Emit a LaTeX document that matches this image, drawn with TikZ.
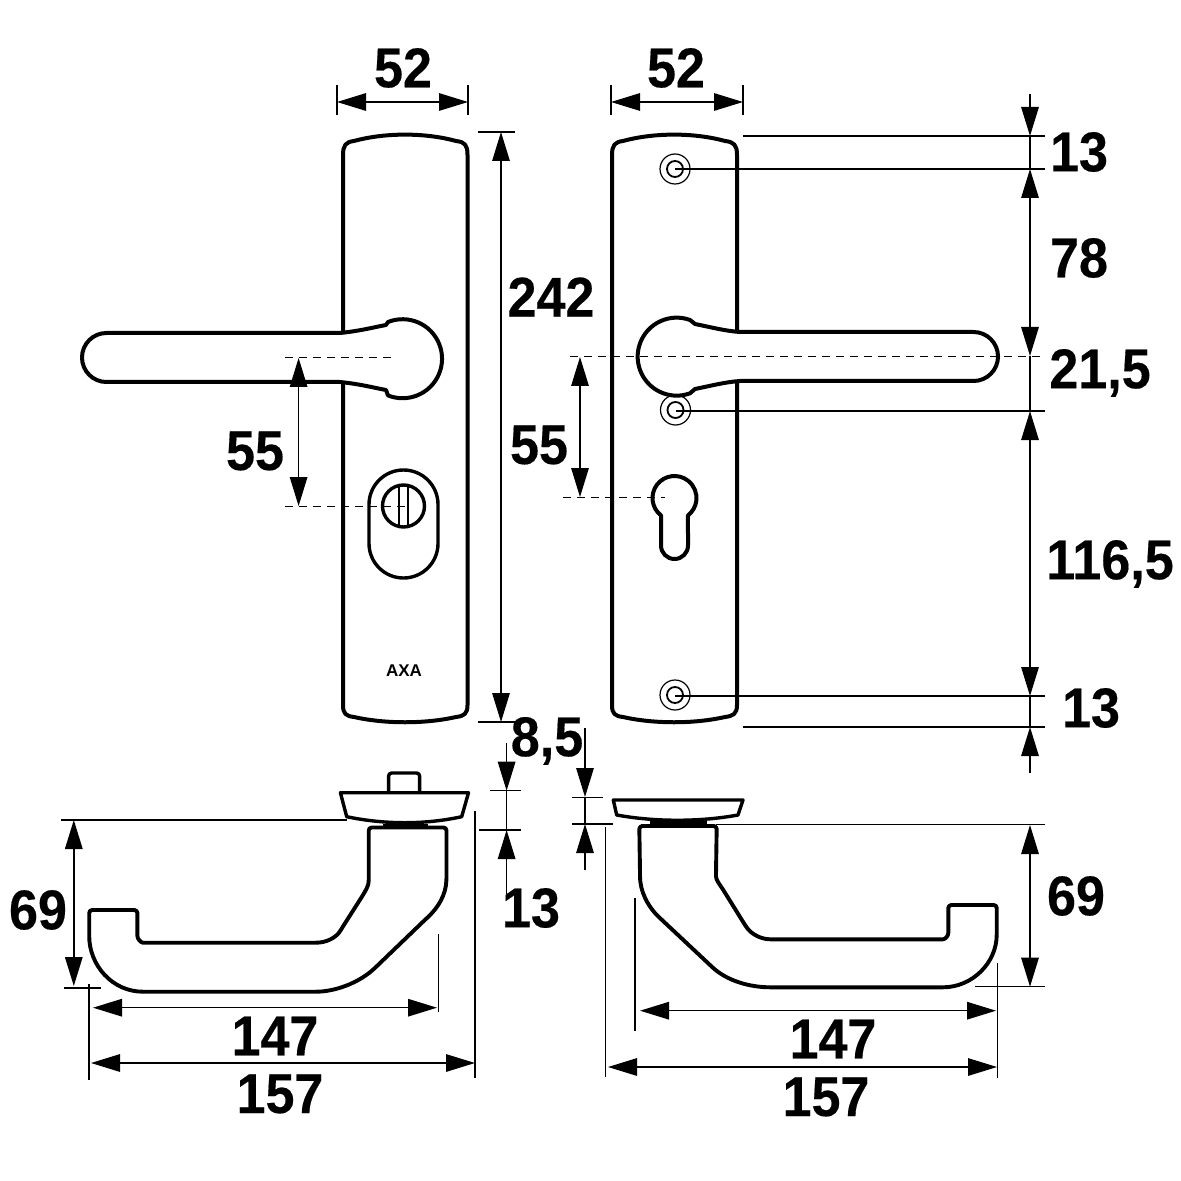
\documentclass[tikz,border=0pt]{standalone}
\usepackage{fontspec}
\setmainfont{Liberation Sans}
\newfontfamily\dimfont[BoldFeatures={FakeStretch=0.93,FakeBold=0.3}]{Liberation Sans}
\usetikzlibrary{arrows.meta}
\tikzset{
  heavy/.style={line width=2pt,line join=round,line cap=round},
  mid/.style={line width=1.7pt,line join=round},
  dimline/.style={line width=0.72pt},
  dimdash/.style={line width=0.6pt,dash pattern=on 4pt off 3pt},
  dimtip/.tip={Stealth[length=14.5pt,width=8.75pt,inset=0pt]},
  both/.style={dimline,{dimtip}-{dimtip}},
  toend/.style={dimline,-{dimtip}},
  lab/.style={font=\dimfont\bfseries\fontsize{28}{28}\selectfont,inner sep=0pt},
}
\begin{document}
\begin{tikzpicture}[x=0.5pt,y=-0.5pt]
\useasboundingbox (0,0) rectangle (1181,1181);
% ---- left plate
\draw[heavy] (343,155) .. controls (343,145) and (346,142) .. (354,141) .. controls (385,132.5) and (425,132.5) .. (456,141) .. controls (465,142) and (467.5,145) .. (467.5,155)
  -- (467.5,705) .. controls (467.5,714) and (464,716) .. (456,717) .. controls (425,724) and (385,724) .. (354,717) .. controls (346,716) and (343,714) .. (343,705) -- cycle;
% left lever
\draw[heavy,fill=white] (106.5,333) -- (340,333) .. controls (360,331) and (375,327) .. (386,325) -- (388,322) arc[start angle=-111.6,end angle=111.6,radius=39.5] -- (386,390) .. controls (375,388) and (360,384) .. (340,382) -- (106.5,382) arc[start angle=90,end angle=270,radius=24.5] -- cycle;
% left cylinder cover
\draw[mid] (369,504.5) arc[start angle=180,end angle=360,radius=34.5] -- (438,543.5) arc[start angle=0,end angle=180,radius=34.5] -- cycle;
\draw[mid] (403.5,506) circle[radius=21];
\draw[line width=1.2pt] (399,485) -- (399,527) (408,485) -- (408,527);
\node[font=\bfseries\fontsize{8.5}{8.5}\selectfont,inner sep=0pt] (axa) at (404,671) {AXA};
% ---- right plate
\draw[heavy] (612,155) .. controls (612,145) and (615,142) .. (623,141) .. controls (654,132.5) and (694,132.5) .. (725,141) .. controls (734,142) and (737,145) .. (737,155)
  -- (737,705) .. controls (737,714) and (733,716) .. (725,717) .. controls (694,724) and (654,724) .. (623,717) .. controls (615,716) and (612,714) .. (612,705) -- cycle;
% screws
\draw[line width=0.6pt] (675,169) circle[radius=15] (675.5,410) circle[radius=15] (675,695) circle[radius=15];
\draw[line width=0.9pt] (675,169) circle[radius=8] (675.5,410) circle[radius=8] (675,695) circle[radius=8];
% right lever
\draw[heavy,fill=white] (973.5,332) -- (740,332) .. controls (725,331) and (710,327) .. (695,324) -- (690,320) arc[start angle=-70,end angle=-290,radius=39] -- (695,389) .. controls (710,386) and (725,382) .. (740,381) -- (973.5,381) arc[start angle=90,end angle=-90,radius=24.5] -- cycle;
% keyhole
\draw[heavy] (661,515.4) arc[start angle=127.8,end angle=412.2,radius=22] -- (688,545.5) arc[start angle=0,end angle=180,radius=13.5] -- cycle;
% ---- bottom left handle
\draw[mid] (340.4,792.7) -- (468.5,792.7) -- (461.7,816.7) .. controls (425,824.7) and (385,824.7) .. (346.7,816.7) -- cycle;
\draw[mid,rounded corners=1.5pt] (388.6,792.7) -- (388.6,773) -- (419.6,773) -- (419.6,792.7);
\draw[line width=1.5pt] (383,825) -- (428,825);
\draw[heavy,line width=1.95pt,rounded corners=1.5pt] (368.7,827.5) -- (446.5,827.5) -- (446.5,877) .. controls (446,895) and (438,908) .. (424.8,920) -- (374.9,968) .. controls (358,983) and (335,991.7) .. (313,991.7) -- (146,991.7) .. controls (112,991.7) and (89.2,965) .. (89.2,933) -- (89.2,910) -- (137.4,910) -- (137.4,933) .. controls (137.4,939) and (141,942.7) .. (146,942.7) -- (313,942.7) .. controls (326,942.7) and (336,938) .. (342,928) -- (363,895) .. controls (367,888) and (368.7,885) .. (368.7,877) -- cycle;
% ---- bottom right handle
\draw[mid] (613.3,800) -- (743,800) -- (738,815) .. controls (700,822) and (655,822) .. (616.7,815) -- cycle;
\draw[line width=2pt] (650,822.7) -- (707,822.7);
\draw[heavy,line width=1.95pt,rounded corners=1.5pt] (639.3,826) -- (716.7,826) -- (716,873.3) .. controls (716,880) and (720,885) .. (723.3,890) -- (745,925) .. controls (752,935) and (762,939.3) .. (773.3,939.3) -- (940,939.3) .. controls (945,939.3) and (948.3,936) .. (948.3,930) -- (948.3,905) -- (996.7,905) -- (996.7,931.7) .. controls (996.7,963) and (972,987.3) .. (940,987.3) -- (773.3,987.3) .. controls (750,987.3) and (727,981) .. (710,965) -- (656.7,915) .. controls (648,905) and (640,892) .. (640,873) -- cycle;
% ---- dashed centre lines
\draw[dimdash] (285,357.6) -- (395,357.6);
\draw[dimdash] (285,506.5) -- (405,506.5);
\draw[dimdash] (570,356.5) -- (1045,356.5);
\draw[dimdash] (563,497.5) -- (665,497.5);
% ---- extension lines
\draw[dimline] (337,85) -- (337,115) (468,85) -- (468,115) (611,85) -- (611,115) (743,85) -- (743,115);
\draw[dimline] (478,132) -- (515,132) (478,722) -- (515,722);
\draw[dimline] (743,136) -- (1045,136) (675,169) -- (1045,169) (675.5,411) -- (1045,411) (675,696) -- (1045,696) (743,727) -- (1045,727);
\draw[dimline] (1030,136) -- (1030,169) (1030,356) -- (1030,411) (1030,696) -- (1030,727);
\draw[dimline] (61,820) -- (347,820) (64,988) -- (101,988) (89,984) -- (89,1080) (438.5,934) -- (438.5,1012) (475,811) -- (475,1078);
\draw[dimline] (490,790.7) -- (521,790.7) (479,830) -- (521,830) (506.6,790.7) -- (506.6,830);
\draw[dimline] (571.7,797.7) -- (602.7,797.7) (572,824) -- (613,824) (585,797) -- (585,824);
\draw[dimline] (716,824.7) -- (1045,824.7) (975,986.7) -- (1045,986.7) (997.3,963) -- (997.3,1078) (635,898) -- (635,1031) (605.7,827) -- (605.7,1077);
% ---- dimension arrows
\draw[both] (337,102) -- (468,102);
\draw[both] (611,102) -- (743,102);
\draw[both] (501,132) -- (501,722);
\draw[both] (298.6,358) -- (298.6,506);
\draw[both] (580,357) -- (580,497);
\draw[toend] (1030,94) -- (1030,136);
\draw[both] (1030,169) -- (1030,356);
\draw[both] (1030,411) -- (1030,696);
\draw[toend] (1030,773) -- (1030,727);
\draw[toend] (506.6,743) -- (506.6,790.7);
\draw[toend] (506.6,894) -- (506.6,830);
\draw[toend] (585,728) -- (585,797);
\draw[toend] (585,870) -- (585,824);
\draw[both] (73.8,820) -- (73.8,986);
\draw[both] (93,1007.7) -- (437,1007.7);
\draw[both] (91,1063) -- (475,1063);
\draw[both] (1030,825) -- (1030,986.7);
\draw[both] (640,1010.7) -- (996,1010.7);
\draw[both] (608,1067) -- (997,1067);
% ---- labels
\node[lab] (l52a) at (403,68) {52};
\node[lab] (l52b) at (676,68) {52};
\node[lab] (l242) at (551,297) {242};
\node[lab] (l13a) at (1079,152) {13};
\node[lab] (l78) at (1079,258) {78};
\node[lab] (l215) at (1100,373) {21,5};
\node[lab] (l1165) at (1110,564) {116,5};
\node[lab] (l13b) at (1091,708) {13};
\node[lab] (l55a) at (255,451) {55};
\node[lab] (l55b) at (539,445) {55};
\node[lab] (l85) at (547,741) {8,5};
\node[lab] (l13c) at (531,908) {13};
\node[lab] (l69a) at (38,910) {69};
\node[lab] (l69b) at (1076,896) {69};
\node[lab] (l147a) at (275,1036) {147};
\node[lab] (l157a) at (280,1094) {157};
\node[lab] (l147b) at (833,1039) {147};
\node[lab] (l157b) at (826,1097) {157};
\end{tikzpicture}
\end{document}
